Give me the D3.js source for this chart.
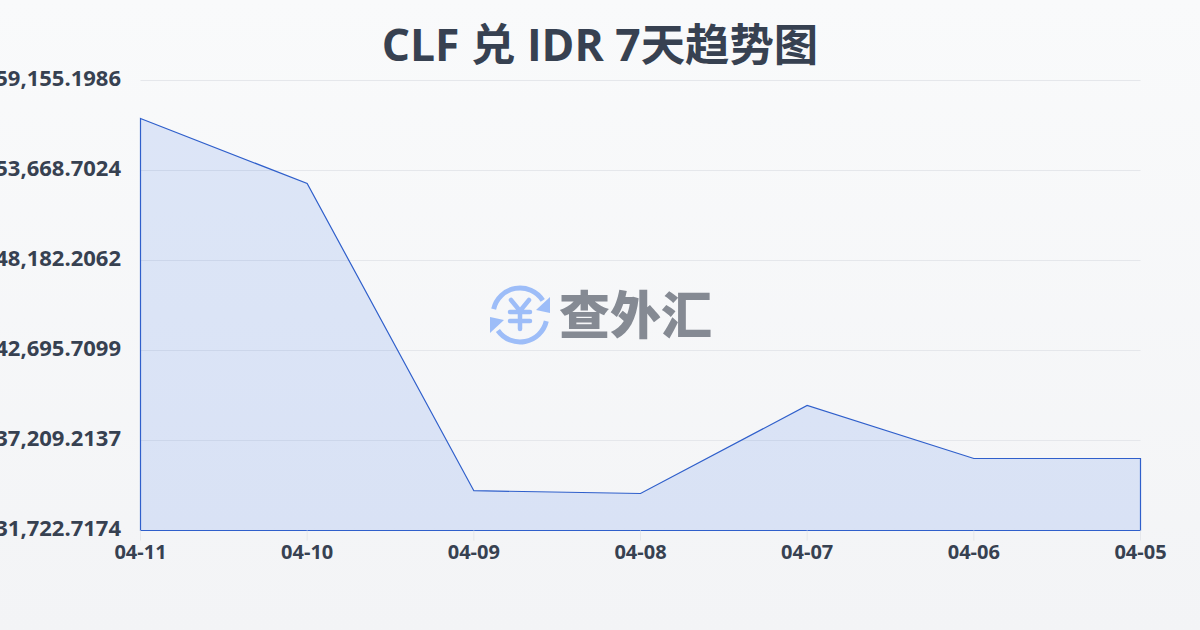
<!DOCTYPE html>
<html><head><meta charset="utf-8">
<script src="https://cdn.jsdelivr.net/npm/d3@7/dist/d3.min.js"></script>
<style>
html,body{margin:0;padding:0;width:1200px;height:630px;overflow:hidden}
body{background:linear-gradient(180deg,#f9fafb 0%,#f3f4f6 100%);font-family:"Open Sans","Noto Sans CJK SC",sans-serif}
svg{display:block}
</style></head><body>
<svg id="c" width="1200" height="630"></svg>
<script>
const titleText = "CLF 兑 IDR 7天趋势图";
const watermark = "查外汇";
const dates = ["04-11","04-10","04-09","04-08","04-07","04-06","04-05"];
const rates = [56839,52876,34150,33978,39343,36112,36112];
const yTicks = [31722.7174,37209.2137,42695.7099,48182.2062,53668.7024,59155.1986];
const svg = d3.select("#c");
const font = '"Open Sans","Noto Sans CJK SC",sans-serif';
const x = d3.scalePoint().domain(dates).range([140.5,1140.5]);
const y = d3.scaleLinear().domain([yTicks[0],yTicks[yTicks.length-1]]).range([530.5,80.5]);

svg.append("text").attr("x",600).attr("y",61).attr("text-anchor","middle")
  .attr("font-family",font).attr("font-weight",700)
  .attr("font-size",44.4).attr("fill","#374151").text(titleText);

const gy = svg.append("g").attr("transform","translate(140.5,0)")
  .call(d3.axisLeft(y).offset(0).tickValues(yTicks).tickSize(0).tickPadding(19.5)
    .tickFormat(d3.format(",.4f")));
gy.select(".domain").remove();
gy.selectAll("text").attr("font-family",font).attr("font-weight",700).attr("font-size",22)
  .attr("fill","#374151").attr("dy","0.25em");
gy.selectAll(".tick").filter(d=>d!==yTicks[0]).append("line")
  .attr("x1",0).attr("x2",1000).attr("stroke","#e5e7eb").attr("stroke-width",1);

const area = d3.area().x((d,i)=>x(dates[i])).y0(y(yTicks[0])).y1(d=>y(d));
svg.append("path").datum(rates).attr("d",area).attr("fill","#2563eb").attr("fill-opacity",0.13)
  .attr("stroke","#2f5fcb").attr("stroke-width",1.2).attr("stroke-linejoin","miter");

const gx = svg.append("g").attr("transform","translate(0,530.5)")
  .call(d3.axisBottom(x).offset(0).tickSize(10).tickPadding(4));
gx.select(".domain").remove();
gx.selectAll("line").attr("stroke","#e5e7eb");
gx.selectAll("text").attr("font-family",font).attr("font-weight",700).attr("font-size",20)
  .attr("fill","#374151");

// watermark
const icon = svg.append("g").attr("transform","translate(520,315)").attr("fill","none")
  .attr("stroke","#9dbdf8").attr("stroke-width",5).attr("stroke-linecap","round");
icon.append("path").attr("d",d3.arc()({innerRadius:27,outerRadius:27,startAngle:-1.35,endAngle:1.0}));
icon.append("path").attr("d",d3.arc()({innerRadius:27,outerRadius:27,startAngle:1.8,endAngle:4.1}));
icon.append("path").attr("fill","#9dbdf8").attr("stroke","none").attr("d","M30,-18 L30,-2 L16,-5 Z");
icon.append("path").attr("fill","#9dbdf8").attr("stroke","none").attr("d","M-30,18 L-30,2 L-16,5 Z");
icon.append("path").attr("stroke-width",4.5).attr("d","M-9,-15 L0,-4 L9,-15 M0,-4 L0,14 M-10,-3 L10,-3 M-10,6 L10,6");
svg.append("text").attr("x",635.5).attr("y",334).attr("text-anchor","middle")
  .attr("font-family",'"Noto Sans CJK SC",sans-serif').attr("font-weight",900).attr("font-size",51)
  .attr("fill","#858a93").text(watermark);
</script>
</body></html>
